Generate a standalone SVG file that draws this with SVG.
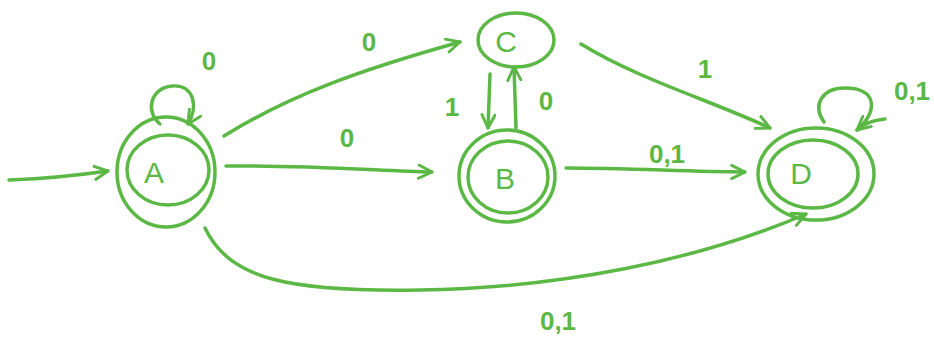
<svg xmlns="http://www.w3.org/2000/svg" width="934" height="341" viewBox="0 0 934 341">
<style>
.s{fill:none;stroke:#5cb845;stroke-width:3.5;stroke-linecap:round;stroke-linejoin:round}
.t{fill:#5cb845;font-family:"Liberation Sans",Arial,sans-serif;font-size:26px;font-weight:bold}
.n{fill:#5cb845;font-family:"Liberation Sans",Arial,sans-serif;font-size:30px}
</style>
<defs>
<marker id="ah" viewBox="0 0 12 12" refX="11" refY="6" markerWidth="16" markerHeight="16" markerUnits="userSpaceOnUse" orient="auto">
<path d="M1,1 L11,6 L1,11" fill="none" stroke="#5cb845" stroke-width="2.2" stroke-linecap="round" stroke-linejoin="round"/>
</marker>
</defs>
<rect width="934" height="341" fill="#fff"/>
<g id="A">
<ellipse class="s" cx="166" cy="172" rx="49" ry="55"/>
<ellipse class="s" cx="168" cy="170" rx="41" ry="35"/>
<text class="n" x="154" y="183" text-anchor="middle">A</text>
</g>
<g id="B">
<ellipse class="s" cx="507" cy="176" rx="48" ry="46"/>
<ellipse class="s" cx="508" cy="177" rx="40" ry="36"/>
<text class="n" x="505" y="189" text-anchor="middle">B</text>
</g>
<g id="C">
<ellipse class="s" cx="516" cy="40" rx="38" ry="27"/>
<text class="n" x="506" y="52" text-anchor="middle">C</text>
</g>
<g id="D">
<ellipse class="s" cx="816" cy="174" rx="58" ry="46"/>
<ellipse class="s" cx="813" cy="174" rx="45" ry="34"/>
<text class="n" x="801" y="184" text-anchor="middle">D</text>
</g>
<g id="connectors">
<path class="s" d="M9,180 Q60,178 108,171" marker-end="url(#ah)"/>
<path class="s" d="M160,124 C145,112 150,88 172,86 C195,84 198,108 188,124" marker-end="url(#ah)"/>
<path class="s" d="M224,136 C290,95 360,70 460,42" marker-end="url(#ah)"/>
<path class="s" d="M226,166 C300,165 370,170 432,172" marker-end="url(#ah)"/>
<path class="s" d="M490,74 L488,128" marker-end="url(#ah)"/>
<path class="s" d="M516,128 L514,67" marker-end="url(#ah)"/>
<path class="s" d="M566,168 C630,168 690,172 745,172" marker-end="url(#ah)"/>
<path class="s" d="M581,44 C640,80 710,100 770,128" marker-end="url(#ah)"/>
<path class="s" d="M824,122 C812,105 822,88 845,88 C878,88 878,112 857,130" marker-end="url(#ah)"/>
<path class="s" d="M857,130 C865,122 875,120 885,119"/>
<path class="s" d="M205,228 C230,280 290,292 420,290 C560,288 700,260 806,214" marker-end="url(#ah)"/>
</g>
<g id="labels">
<text class="t" x="209" y="70" text-anchor="middle">0</text>
<text class="t" x="369" y="51" text-anchor="middle">0</text>
<text class="t" x="347" y="147" text-anchor="middle">0</text>
<text class="t" x="452" y="116" text-anchor="middle">1</text>
<text class="t" x="546" y="110" text-anchor="middle">0</text>
<text class="t" x="705" y="78" text-anchor="middle">1</text>
<text class="t" x="667" y="163" text-anchor="middle">0,1</text>
<text class="t" x="912" y="100" text-anchor="middle">0,1</text>
<text class="t" x="558" y="330" text-anchor="middle">0,1</text>
</g>
</svg>
